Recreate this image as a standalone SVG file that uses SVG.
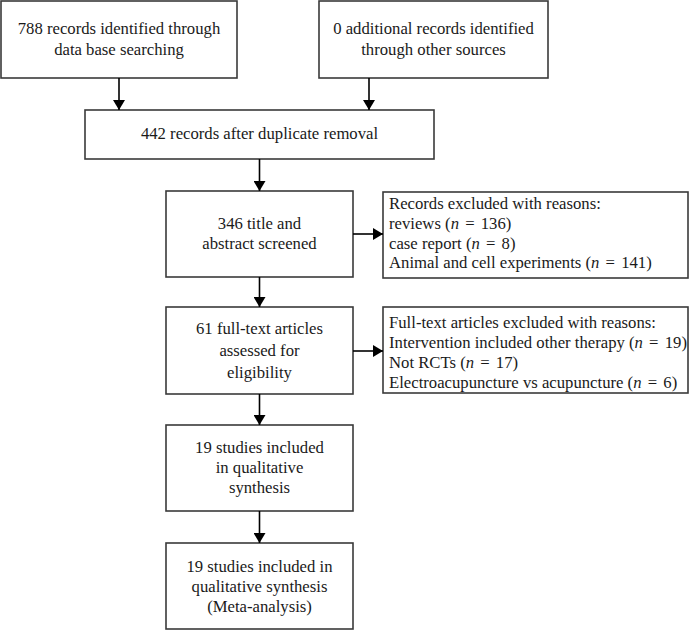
<svg xmlns="http://www.w3.org/2000/svg" width="690" height="630" viewBox="0 0 690 630">
<defs>
<marker id="ah" viewBox="0 0 10 12" refX="10" refY="6" markerWidth="10" markerHeight="12" markerUnits="userSpaceOnUse" orient="auto">
<path d="M0,0 L10,6 L0,12 Z" fill="#000"/>
</marker>
<style>
.box{fill:#fff;stroke:#3a3a3a;stroke-width:1.6}
.t{font-family:"Liberation Serif","Times New Roman",serif;font-size:16.7px;fill:#1a1a1a}
.c{text-anchor:middle}
.i{font-style:italic}
.conn{stroke:#000;stroke-width:1.6;fill:none;marker-end:url(#ah)}
</style>
</defs>
<rect width="690" height="630" fill="#fff"/>
<g id="n1"><rect class="box" x="1" y="1" width="236" height="77"/>
<text class="t c" x="119" y="34">788 records identified through</text>
<text class="t c" x="119" y="55">data base searching</text></g>
<g id="n2"><rect class="box" x="319" y="1" width="229" height="77"/>
<text class="t c" x="433.5" y="34">0 additional records identified</text>
<text class="t c" x="433.5" y="55">through other sources</text></g>
<g id="n3"><rect class="box" x="85" y="110" width="349" height="49"/>
<text class="t c" x="259.5" y="139">442 records after duplicate removal</text></g>
<g id="n4"><rect class="box" x="166" y="191" width="187" height="86"/>
<text class="t c" x="259.5" y="229">346 title and</text>
<text class="t c" x="259.5" y="249">abstract screened</text></g>
<g id="n5"><rect class="box" x="383" y="192" width="305" height="86"/>
<text class="t" x="389" y="209">Records excluded with reasons:</text>
<text class="t" x="389" y="229">reviews (<tspan class="i">n</tspan> <tspan dx="2">=</tspan> <tspan dx="2">136)</tspan></text>
<text class="t" x="389" y="249">case report (<tspan class="i">n</tspan> <tspan dx="2">=</tspan> <tspan dx="2">8)</tspan></text>
<text class="t" x="389" y="268">Animal and cell experiments (<tspan class="i">n</tspan> <tspan dx="2">=</tspan> <tspan dx="2">141)</tspan></text></g>
<g id="n6"><rect class="box" x="166" y="307" width="187" height="87"/>
<text class="t c" x="259.5" y="334">61 full-text articles</text>
<text class="t c" x="259.5" y="356">assessed for</text>
<text class="t c" x="259.5" y="378">eligibility</text></g>
<g id="n7"><rect class="box" x="383" y="307" width="305" height="86"/>
<text class="t" x="389" y="328">Full-text articles excluded with reasons:</text>
<text class="t" x="389" y="348">Intervention included other therapy (<tspan class="i">n</tspan> <tspan dx="2">=</tspan> <tspan dx="2">19)</tspan></text>
<text class="t" x="389" y="368">Not RCTs (<tspan class="i">n</tspan> <tspan dx="2">=</tspan> <tspan dx="2">17)</tspan></text>
<text class="t" x="389" y="388">Electroacupuncture vs acupuncture (<tspan class="i">n</tspan> <tspan dx="2">=</tspan> <tspan dx="2">6)</tspan></text></g>
<g id="n8"><rect class="box" x="166" y="425" width="187" height="86"/>
<text class="t c" x="259.5" y="453">19 studies included</text>
<text class="t c" x="259.5" y="473">in qualitative</text>
<text class="t c" x="259.5" y="493">synthesis</text></g>
<g id="n9"><rect class="box" x="166" y="543" width="187" height="86"/>
<text class="t c" x="259.5" y="572">19 studies included in</text>
<text class="t c" x="259.5" y="592">qualitative synthesis</text>
<text class="t c" x="259.5" y="612">(Meta-analysis)</text></g>
<g id="connectors">
<line class="conn" x1="119" y1="78" x2="119" y2="110"/>
<line class="conn" x1="369" y1="78" x2="369" y2="110"/>
<line class="conn" x1="259.5" y1="159" x2="259.5" y2="191"/>
<line class="conn" x1="353" y1="234" x2="383" y2="234"/>
<line class="conn" x1="259.5" y1="277" x2="259.5" y2="307"/>
<line class="conn" x1="353" y1="351" x2="383" y2="351"/>
<line class="conn" x1="259.5" y1="394" x2="259.5" y2="425"/>
<line class="conn" x1="259.5" y1="511" x2="259.5" y2="543"/>
</g>
</svg>
